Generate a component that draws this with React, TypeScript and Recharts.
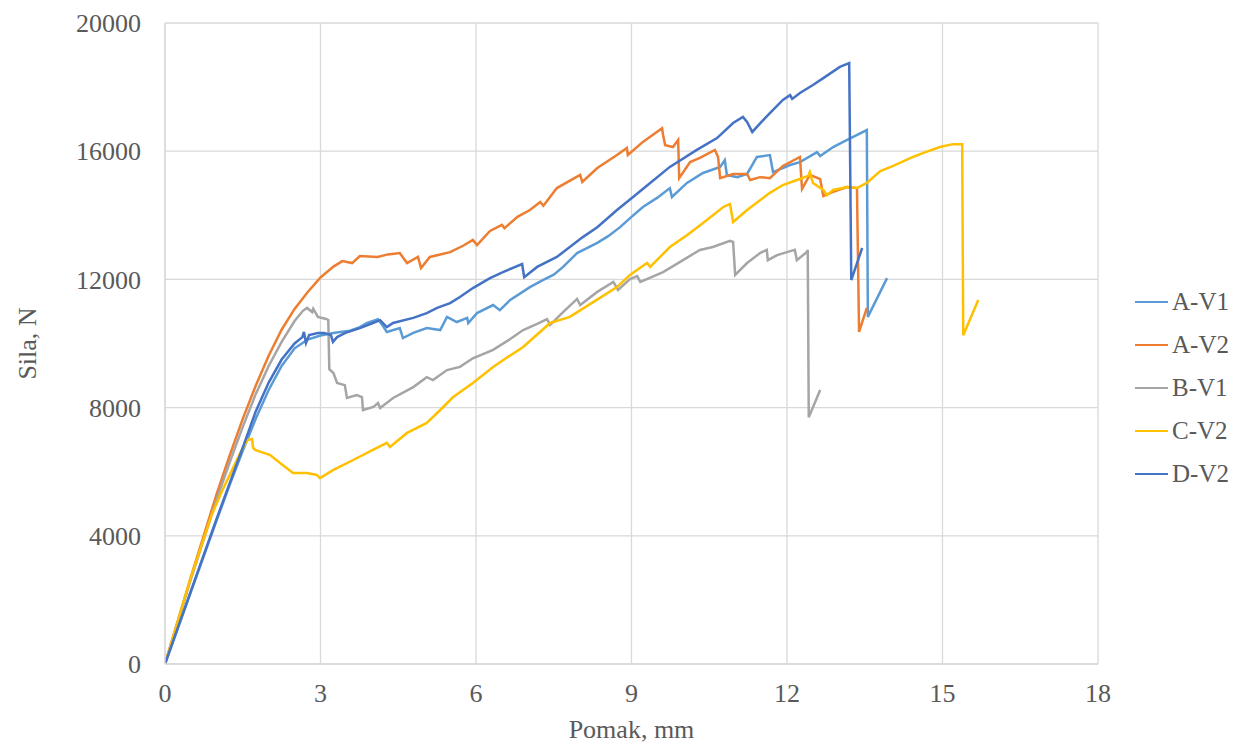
import { CartesianGrid, Legend, Line, LineChart, XAxis, YAxis } from "recharts";

// Pomak (mm) vs Sila (N).
const A_V1: [number, number][] = [
  [0, 0], [0.5, 2250], [1.0, 4500], [1.25, 5600], [1.5, 6650], [1.75, 7650], [2.0, 8550],
  [2.25, 9300], [2.5, 9850], [2.75, 10120], [3.0, 10250], [3.25, 10330], [3.38, 10360],
  [3.57, 10400], [3.76, 10510], [3.9, 10640], [4.11, 10760], [4.19, 10580], [4.28, 10360],
  [4.53, 10480], [4.59, 10170], [4.79, 10330], [5.05, 10480], [5.31, 10420], [5.44, 10830],
  [5.63, 10670], [5.83, 10800], [5.85, 10640], [6.02, 10950], [6.33, 11200], [6.46, 11040],
  [6.66, 11360], [7.04, 11760], [7.29, 11980], [7.5, 12150], [7.68, 12390], [7.95, 12820],
  [8.34, 13140], [8.55, 13350], [8.78, 13630], [9.0, 13950], [9.22, 14260], [9.5, 14550],
  [9.74, 14850], [9.78, 14570], [10.07, 15010], [10.38, 15320], [10.71, 15510], [10.8, 15720],
  [10.84, 15260], [11.04, 15190], [11.23, 15290], [11.42, 15820], [11.67, 15880], [11.73, 15350],
  [12.06, 15570], [12.25, 15660], [12.58, 15970], [12.64, 15850], [12.89, 16130], [13.16, 16350],
  [13.54, 16660], [13.56, 10830], [13.93, 12040],
];

const A_V2: [number, number][] = [
  [0, 0], [0.5, 2720], [1.0, 5320], [1.25, 6520], [1.5, 7650], [1.75, 8680], [2.0, 9620],
  [2.25, 10430], [2.5, 11080], [2.75, 11600], [3.0, 12060], [3.25, 12400], [3.42, 12570],
  [3.61, 12510], [3.76, 12730], [4.1, 12700], [4.3, 12780], [4.53, 12820], [4.67, 12510],
  [4.88, 12700], [4.94, 12355], [5.11, 12700], [5.5, 12850], [5.75, 13050], [5.94, 13230],
  [6.02, 13070], [6.27, 13510], [6.5, 13700], [6.55, 13600], [6.8, 13950], [7.04, 14165],
  [7.24, 14415], [7.3, 14300], [7.56, 14850], [8.01, 15260], [8.05, 15040], [8.34, 15475],
  [8.72, 15880], [8.91, 16100], [8.93, 15880], [9.22, 16290], [9.59, 16720], [9.61, 16500],
  [9.65, 16190], [9.8, 16130], [9.9, 16350], [9.92, 15160], [10.13, 15660], [10.32, 15790],
  [10.61, 16040], [10.67, 15820], [10.71, 15160], [10.96, 15290], [11.23, 15290], [11.29, 15100],
  [11.48, 15190], [11.67, 15160], [11.92, 15540], [12.25, 15820], [12.29, 14820], [12.44, 15260],
  [12.64, 15130], [12.7, 14600], [12.89, 14730], [13.16, 14880], [13.35, 14850], [13.39, 10360],
  [13.54, 11110],
];

const B_V1: [number, number][] = [
  [0, 0], [0.5, 2650], [1.0, 5150], [1.25, 6300], [1.5, 7400], [1.75, 8420], [2.0, 9300],
  [2.25, 10050], [2.5, 10700], [2.66, 11020], [2.74, 11110], [2.84, 10980], [2.86, 11080],
  [2.95, 10830], [3.11, 10765], [3.15, 10735], [3.17, 9200], [3.25, 9080], [3.32, 8770],
  [3.47, 8700], [3.51, 8300], [3.7, 8390], [3.8, 8330], [3.82, 7925], [4.02, 8020], [4.11, 8140],
  [4.15, 7990], [4.4, 8300], [4.79, 8640], [5.05, 8950], [5.17, 8860], [5.44, 9170], [5.69, 9270],
  [5.94, 9540], [6.33, 9800], [6.66, 10140], [6.91, 10420], [7.18, 10610], [7.37, 10760],
  [7.43, 10580], [7.68, 10980], [7.95, 11390], [8.01, 11200], [8.34, 11610], [8.65, 11920],
  [8.74, 11670], [8.97, 12010], [9.11, 12100], [9.17, 11920], [9.61, 12230], [9.93, 12540],
  [10.32, 12920], [10.57, 13010], [10.9, 13200], [10.96, 13170], [11.0, 12140], [11.23, 12510],
  [11.48, 12820], [11.61, 12920], [11.63, 12600], [11.81, 12760], [12.0, 12850], [12.15, 12920],
  [12.19, 12600], [12.38, 12850], [12.4, 12920], [12.42, 7700], [12.64, 8550],
];

const C_V2: [number, number][] = [
  [0, 0], [0.5, 2700], [0.9, 4650], [1.1, 5400], [1.25, 5900], [1.45, 6580], [1.59, 6990],
  [1.68, 7020], [1.7, 6740], [1.74, 6680], [2.03, 6520], [2.22, 6270], [2.47, 5960], [2.74, 5960],
  [2.93, 5900], [2.99, 5800], [3.24, 6050], [3.63, 6365], [4.01, 6680], [4.28, 6900], [4.34, 6770],
  [4.67, 7210], [5.05, 7520], [5.31, 7925], [5.56, 8330], [5.94, 8770], [6.33, 9270], [6.52, 9480],
  [6.91, 9890], [7.43, 10640], [7.81, 10830], [8.33, 11360], [8.72, 11760], [8.97, 12140],
  [9.3, 12510], [9.36, 12390], [9.74, 13010], [10.07, 13380], [10.38, 13760], [10.77, 14260],
  [10.9, 14350], [10.96, 13790], [11.23, 14165], [11.67, 14700], [11.92, 14945], [12.19, 15100],
  [12.41, 15230], [12.44, 15350], [12.5, 15010], [12.7, 14790], [12.77, 14630], [12.89, 14790],
  [13.16, 14880], [13.35, 14850], [13.54, 15010], [13.8, 15380], [14.05, 15540], [14.43, 15820],
  [14.62, 15940], [14.95, 16130], [15.2, 16220], [15.38, 16220], [15.4, 10260], [15.69, 11360],
];

const D_V2: [number, number][] = [
  [0, 0], [0.5, 2280], [1.0, 4550], [1.25, 5650], [1.5, 6750], [1.75, 7880], [2.0, 8780],
  [2.25, 9500], [2.5, 10000], [2.65, 10200], [2.68, 10360], [2.72, 10015], [2.78, 10265],
  [2.95, 10330], [3.07, 10330], [3.2, 10265], [3.24, 10050], [3.32, 10200], [3.48, 10330],
  [3.76, 10480], [4.01, 10640], [4.15, 10730], [4.28, 10510], [4.4, 10640], [4.79, 10800],
  [5.05, 10950], [5.25, 11110], [5.5, 11260], [5.69, 11450], [5.94, 11730], [6.27, 12040],
  [6.52, 12230], [6.89, 12480], [6.93, 12070], [7.18, 12390], [7.56, 12700], [8.06, 13320],
  [8.34, 13630], [8.72, 14165], [9.03, 14570], [9.36, 15010], [9.74, 15510], [10.26, 16040],
  [10.65, 16410], [10.96, 16880], [11.15, 17070], [11.23, 16910], [11.33, 16600], [11.54, 16970],
  [11.67, 17190], [11.92, 17600], [12.06, 17750], [12.1, 17630], [12.25, 17815], [12.5, 18065],
  [12.7, 18280], [13.02, 18630], [13.2, 18750], [13.24, 11980], [13.45, 12980],
];

const SERIES = [
  { name: "A-V1", points: A_V1, color: "#5B9BD5" },
  { name: "A-V2", points: A_V2, color: "#ED7D31" },
  { name: "B-V1", points: B_V1, color: "#A5A5A5" },
  { name: "C-V2", points: C_V2, color: "#FFC000" },
  { name: "D-V2", points: D_V2, color: "#4472C4" },
];

const X_TICKS = [0, 3, 6, 9, 12, 15, 18];
const Y_TICKS = [0, 4000, 8000, 12000, 16000, 20000];

const FONT = "'Liberation Serif', 'Times New Roman', serif";
const TEXT = "#595959";
const GRID = "#D9D9D9";
const TICK = { fill: TEXT, fontSize: 26, fontFamily: FONT } as const;

function LegendList({ payload }: { payload?: { value: string; color: string }[] }) {
  return (
    <div style={{ fontFamily: FONT, fontSize: 25, color: TEXT, lineHeight: 1 }}>
      {(payload ?? []).map((p) => (
        <div key={p.value} style={{ display: "flex", alignItems: "center", height: 43 }}>
          <span
            style={{ display: "inline-block", width: 33, borderTop: `2.5px solid ${p.color}`, marginRight: 4 }}
          />
          <span>{p.value}</span>
        </div>
      ))}
    </div>
  );
}

export default function App() {
  return (
    <div style={{ position: "absolute", left: 0, top: 0, width: 1235, height: 746, background: "#fff" }}>
      <LineChart width={1235} height={746} margin={{ top: 23, right: 137, bottom: 0, left: 0 }}>
        <CartesianGrid stroke={GRID} strokeWidth={1.3} />
        <XAxis
          type="number"
          dataKey="x"
          domain={[0, 18]}
          ticks={X_TICKS}
          allowDataOverflow
          height={82}
          tickLine={false}
          tickSize={0}
          tickMargin={20}
          axisLine={{ stroke: GRID, strokeWidth: 1.3 }}
          tick={TICK}
          label={{ value: "Pomak, mm", position: "insideBottom", offset: 8, style: { ...TICK } }}
        />
        <YAxis
          type="number"
          domain={[0, 20000]}
          ticks={Y_TICKS}
          allowDataOverflow
          width={165}
          tickLine={false}
          tickSize={0}
          tickMargin={24}
          axisLine={{ stroke: GRID, strokeWidth: 1.3 }}
          tick={TICK}
          label={{
            value: "Sila, N",
            angle: -90,
            position: "insideLeft",
            offset: 27,
            style: { ...TICK, textAnchor: "middle" },
          }}
        />
        {SERIES.map((s) => (
          <Line
            key={s.name}
            name={s.name}
            data={s.points.map(([x, y]) => ({ x, y }))}
            dataKey="y"
            type="linear"
            stroke={s.color}
            strokeWidth={2.5}
            dot={false}
            activeDot={false}
            isAnimationActive={false}
          />
        ))}
        <Legend
          layout="vertical"
          align="center"
          verticalAlign="middle"
          content={(props: any) => <LegendList payload={props.payload} />}
          wrapperStyle={{ position: "absolute", left: 1135, top: 280, width: 100 }}
        />
      </LineChart>
    </div>
  );
}
